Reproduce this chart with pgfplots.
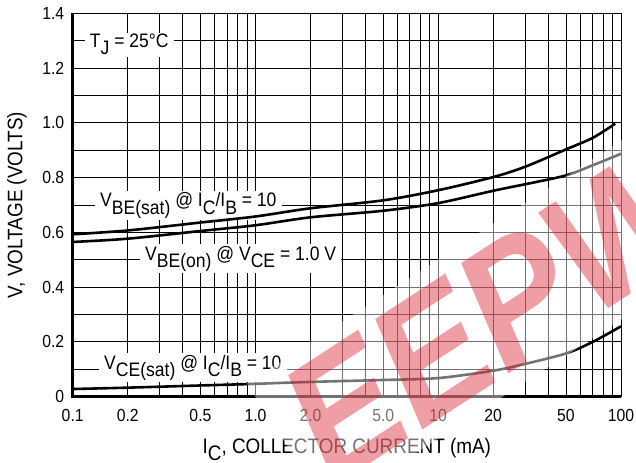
\documentclass[border=0pt]{standalone}
\usepackage{fontspec}
\setmainfont{Liberation Sans}[FakeStretch=0.9]
\usepackage{pgfplots}
\pgfplotsset{compat=1.18}

\definecolor{wmred}{RGB}{215,25,40}
\newcommand\tfs{\fontsize{17.5bp}{20bp}\selectfont}
\newcommand\lfs{\fontsize{19.5bp}{22bp}\selectfont}
\newcommand\afs{\fontsize{21bp}{24bp}\selectfont}
\newcommand\sub[1]{\raisebox{-0.36em}{#1}}

\begin{document}
\begin{tikzpicture}
  \useasboundingbox (-72.7bp,-66.3bp) rectangle (563.3bp,396.7bp);

  \begin{axis}[
    scale only axis,
    width=548.3bp, height=383.4bp,
    xmode=log, xmin=0.1, xmax=100,
    ymin=0, ymax=1.4,
    clip=false,
    axis line style={draw=none},
    xtick={0.1,0.2,0.5,1,2,5,10,20,50,100},
    xticklabels={0.1,0.2,0.5,1.0,2.0,5.0,10,20,50,100},
    minor xtick={0.3,0.4,0.6,0.7,0.8,0.9,3,4,6,7,8,9,30,40,60,70,80,90},
    ytick={0,0.2,0.4,0.6,0.8,1.0,1.2,1.4},
    yticklabels={0,0.2,0.4,0.6,0.8,1.0,1.2,1.4},
    minor ytick={0.1,0.3,0.5,0.7,0.9,1.1,1.3},
    grid=both,
    major grid style={black, line width=0.9bp},
    minor grid style={black, line width=0.9bp},
    major tick length=0pt, minor tick length=0pt,
    tick label style={font=\tfs},
    /pgf/number format/assume math mode=true,
    xticklabel style={yshift=-9bp},
    yticklabel style={xshift=-5bp},
    xlabel={I\sub{C}, COLLECTOR CURRENT (mA)},
    ylabel={V, VOLTAGE (VOLTS)},
    label style={font=\afs},
    xlabel style={at={(axis description cs:0.5,-0.147)}, anchor=base},
    ylabel style={at={(axis description cs:-0.1016,0.5)}, anchor=center, rotate=0},
  ]

  % curve labels (white boxes break the grid)
  \begin{scope}[every node/.style={font=\lfs, fill=white, inner xsep=5bp, inner ysep=1.5bp, anchor=base west}]
    \node at (rel axis cs:0.022,0.910) {T\sub{J} = 25°C};
    \node at (rel axis cs:0.0407,0.4948) {V\sub{BE(sat)} @ I\sub{C}/I\sub{B} = 10};
    \node at (rel axis cs:0.1227,0.3565) {V\sub{BE(on)} @ V\sub{CE} = 1.0 V};
    \node at (rel axis cs:0.048,0.0722) {V\sub{CE(sat)} @ I\sub{C}/I\sub{B} = 10};
  \end{scope}

  % VBE(sat) @ IC/IB = 10
  \addplot [black, line width=2.6bp, smooth] coordinates {
    (0.1,0.593) (0.2,0.607) (0.5,0.636) (1,0.658) (2,0.688) (5,0.717)
    (10,0.754) (20,0.802) (30,0.84) (50,0.903) (70,0.945) (93,0.997)};
  % VBE(on) @ VCE = 1.0 V
  \addplot [black, line width=2.6bp, smooth] coordinates {
    (0.1,0.565) (0.2,0.577) (0.5,0.605) (1,0.626) (2,0.655) (5,0.679)
    (10,0.707) (20,0.752) (30,0.776) (50,0.808) (70,0.845) (100,0.887)};
  % VCE(sat) @ IC/IB = 10
  \addplot [black, line width=2.6bp, smooth] coordinates {
    (0.1,0.028) (0.2,0.033) (0.5,0.041) (1,0.047) (2,0.054) (5,0.061)
    (10,0.068) (20,0.095) (30,0.12) (50,0.158) (70,0.2) (100,0.257)};

  % heavy left and bottom axis lines
  \draw [black, line width=2.5bp] (rel axis cs:0,1) -- (rel axis cs:0,0) -- (rel axis cs:1,0);
  \end{axis}

  % watermark
  \node [rotate=33, anchor=west, fill=white, fill opacity=0.45, text opacity=0.42,
         text=wmred, inner sep=16bp, font=\fontsize{172bp}{172bp}\selectfont\bfseries\itshape]
    at (215bp,-50bp) {EEPW};
\end{tikzpicture}
\end{document}
